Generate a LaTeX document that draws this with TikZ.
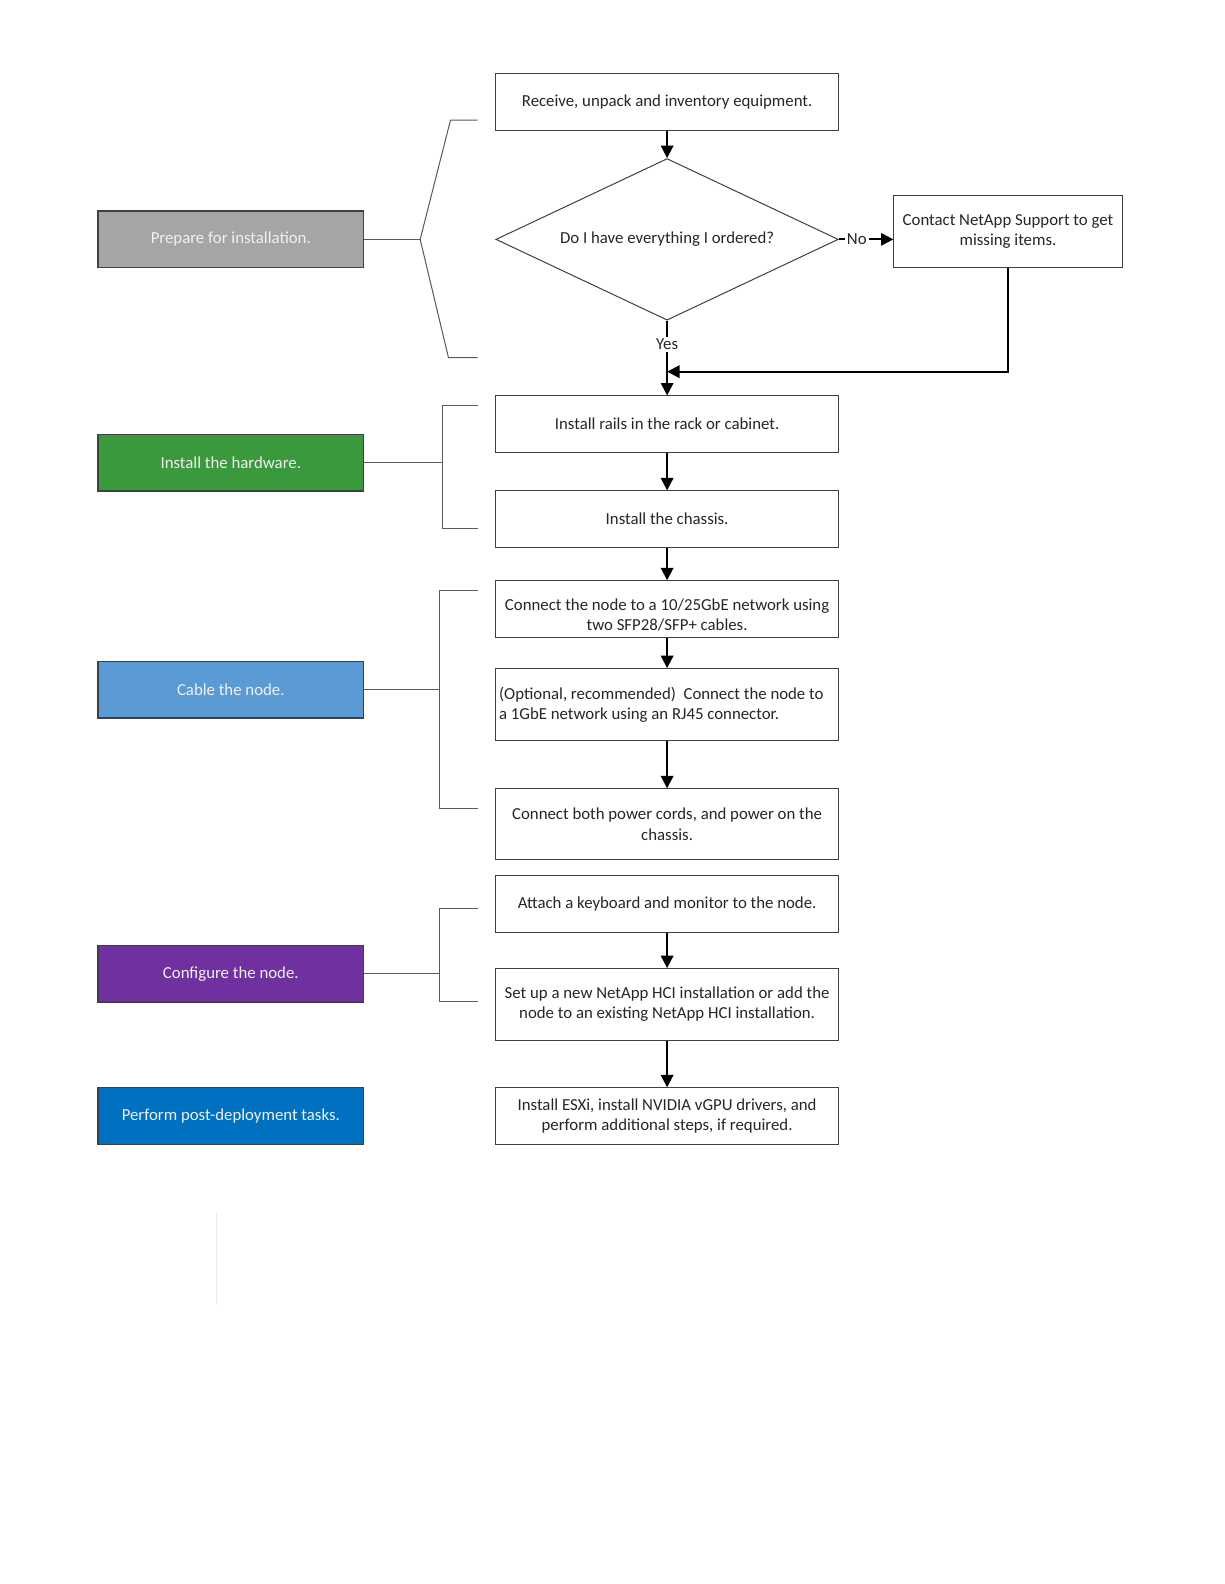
\documentclass[tikz,border=0pt]{standalone}
\usepackage{fontspec}
\setmainfont{Carlito}
\usepackage{xcolor}
\usepackage{tikz}
\usetikzlibrary{shapes.geometric,arrows.meta}

\definecolor{PrepGray}{HTML}{A5A5A5}
\definecolor{HwGreen}{HTML}{3A993D}
\definecolor{CableBlue}{HTML}{5B9BD5}
\definecolor{ConfPurple}{HTML}{7030A0}
\definecolor{PostBlue}{HTML}{0070C0}

\begin{document}
\begin{tikzpicture}[x=0.505pt,y=-0.505pt,
  every node/.style={font=\fontsize{8.4}{10.1}\selectfont},
  phase/.style={draw=black!75,line width=0.7pt,text=white!94!black,
    minimum width=132.8pt,minimum height=28.3pt,inner sep=0pt},
  task/.style={draw=black!75,line width=0.5pt,text=black!85,fill=white,
    minimum width=171.2pt,inner sep=0pt,align=center},
  flow/.style={line width=1pt,-{Triangle[width=6.2pt,length=6.2pt]}},
  brace/.style={black!65,line width=0.5pt}]
\fill[white] (0,0) rectangle (1211.9,1568.3);

% phases on the left
\foreach \y/\n/\c/\t in {237/prep/PrepGray/{Prepare for installation.},
                         458/hw/HwGreen/{Install the hardware.},
                         683/cable/CableBlue/{Cable the node.},
                         964/conf/ConfPurple/{Configure the node.},
                         1105/post/PostBlue/{Perform post-deployment tasks.}}
  \node[phase,fill=\c] (\n) at (228.5,\y) {\t};

% steps on the right
\foreach \y/\h/\n/\t in {101/56/recv/{Receive, unpack and inventory equipment.},
                         420/56/rails/{Install rails in the rack or cabinet.},
                         514/56/chassis/{Install the chassis.},
                         603/56/sfp/{\rule{0pt}{12pt}Connect the node to a 10/25GbE network using\\two SFP28/SFP+ cables.},
                         816/70/power/{Connect both power cords, and power on the\\chassis.},
                         895/56/attach/{Attach a keyboard and monitor to the node.},
                         994.5/71/setup/{Set up a new NetApp HCI installation or add the\\node to an existing NetApp HCI installation.},
                         1105/56/esxi/{Install ESXi, install NVIDIA vGPU drivers, and\\perform additional steps, if required.}}
  \node[task,minimum height=\h*0.505pt] (\n) at (660.5,\y) {\t};
\node[task,align=flush left,text width=168pt,minimum height=35.9pt] (rj) at (660.5,697.5)
  {(Optional, recommended)~ Connect the node to\\a 1GbE network using an RJ45 connector.};

\node[diamond,draw=black!75,line width=0.5pt,text=black!85,aspect=2.1,
  minimum width=171.2pt,minimum height=80.8pt,inner sep=0pt] (ask) at (660.5,237)
  {Do I have everything I ordered?};
\node[task,minimum width=114.1pt,minimum height=35.9pt] (support) at (998,229.5)
  {Contact NetApp Support to get\\missing items.};

% arrows
\foreach \s/\t in {recv/ask, rails/chassis, chassis/sfp, sfp/rj, rj/power,
                   attach/setup, setup/esxi}
  \draw[flow] (\s) -- (\t);
\draw[flow] (ask) -- node[pos=.32,fill=white,inner sep=1pt,text=black!85] {Yes} (rails);
\draw[flow] (ask.east) -- node[pos=.33,fill=white,inner sep=1pt,text=black!85] {No}
  (support.west |- ask.east);
\coordinate (join) at (660.5,368);
\draw[flow] (support.south) |- (join);

% brackets
\coordinate (pv) at (416,237);
\draw[brace] (prep.east) -- (pv);
\draw[brace] (473,119) -- (446,119) -- (pv) -- (444,354) -- (473,354);
\foreach \n/\x/\a/\b in {hw/438/401/523, cable/435/585/800, conf/435/899/992} {
  \draw[brace] (\n.east) -- (\n.east -| \x,0);
  \draw[brace] (473,\a) -- (\x,\a) -- (\x,\b) -- (473,\b);
}

\draw[black!8,line width=0.4pt] (214,1201) -- (214,1292);
\end{tikzpicture}
\end{document}
